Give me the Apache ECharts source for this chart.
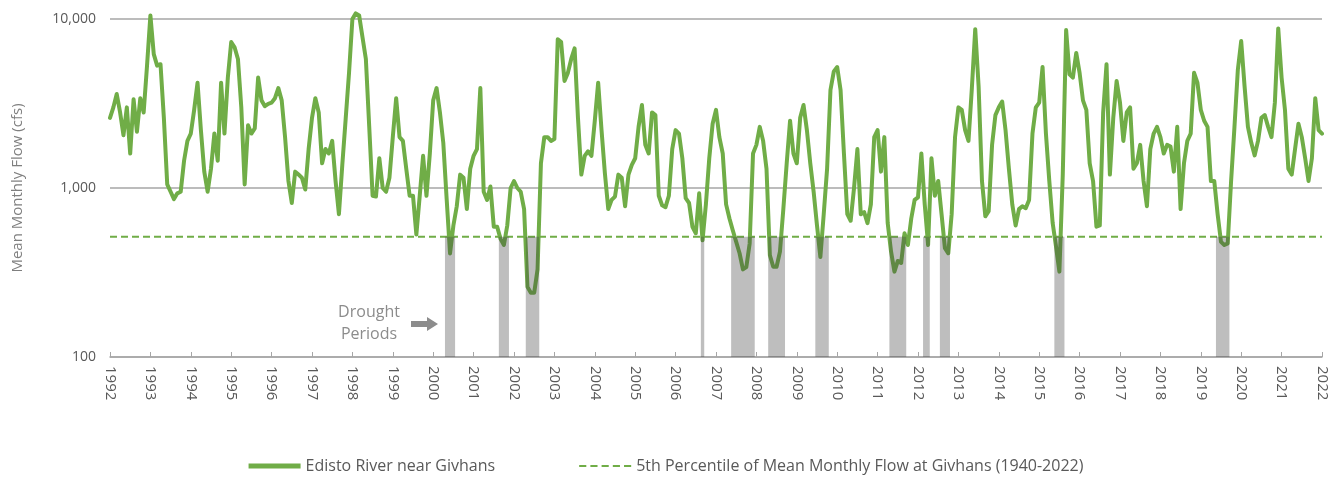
<!DOCTYPE html>
<html>
<head>
<meta charset="utf-8">
<script src="https://cdn.jsdelivr.net/npm/echarts@6/dist/echarts.min.js"></script>
<style>
html, body { margin: 0; padding: 0; background: #fff; }
#chart { width: 1332px; height: 480px; }
</style>
</head>
<body>
<div id="chart"></div>
<script>
// mean monthly flow (cfs), Jan 1992 .. Jan 2022, one row per year
const startYear = 1992;
const monthlyFlow = [
  2600, 3000, 3600, 2800, 2050, 3000, 1600, 3350, 2150, 3400, 2800, 5300,   // 1992
  10500, 6200, 5300, 5400, 2600, 1050, 950, 860, 930, 950, 1450, 1900,      // 1993
  2100, 2900, 4200, 2200, 1250, 950, 1300, 2100, 1450, 4200, 2100, 4500,    // 1994
  7300, 6800, 5800, 3000, 1050, 2350, 2100, 2250, 4500, 3300, 3050, 3150,   // 1995
  3200, 3400, 3900, 3300, 2000, 1100, 815, 1250, 1200, 1150, 980, 1700,     // 1996
  2600, 3400, 2800, 1400, 1700, 1600, 1900, 1100, 700, 1370, 2560, 4800,    // 1997
  10000, 10800, 10500, 7800, 5800, 2300, 900, 890, 1500, 1000, 950, 1150,   // 1998
  2000, 3400, 2000, 1900, 1300, 900, 900, 530, 900, 1550, 900, 1600,        // 1999
  3300, 3900, 2800, 1850, 860, 410, 600, 780, 1200, 1150, 750, 1300,        // 2000
  1550, 1700, 3900, 950, 850, 1020, 590, 590, 500, 460, 600, 1000,          // 2001
  1100, 1000, 950, 750, 260, 240, 240, 330, 1400, 2000, 2000, 1900,         // 2002
  1950, 7600, 7300, 4300, 4800, 5800, 6700, 2600, 1200, 1550, 1650, 1550,   // 2003
  2500, 4200, 2200, 1220, 750, 850, 890, 1200, 1150, 780, 1200, 1370,       // 2004
  1500, 2300, 3100, 1800, 1600, 2800, 2700, 900, 790, 770, 900, 1700,       // 2005
  2200, 2100, 1500, 870, 815, 590, 540, 930, 490, 800, 1500, 2400,          // 2006
  2900, 2000, 1600, 800, 660, 560, 480, 411, 330, 340, 470, 1600,           // 2007
  1800, 2300, 1900, 1300, 400, 342, 342, 420, 750, 1400, 2500, 1600,        // 2008
  1400, 2600, 3100, 2200, 1400, 950, 600, 390, 700, 1300, 3800, 4900,       // 2009
  5200, 3800, 1600, 700, 640, 1000, 1700, 700, 720, 620, 800, 2000,         // 2010
  2200, 1250, 2000, 620, 420, 320, 370, 360, 540, 460, 660, 850,            // 2011
  880, 1600, 800, 460, 1500, 900, 1100, 700, 440, 411, 700, 2000,           // 2012
  3000, 2900, 2200, 1900, 3900, 8700, 4000, 1100, 680, 730, 1800, 2700,     // 2013
  3000, 3250, 2200, 1300, 800, 600, 750, 780, 760, 850, 2100, 3000,         // 2014
  3200, 5200, 2100, 1100, 620, 450, 320, 1200, 8600, 4700, 4500, 6300,      // 2015
  4800, 3300, 2900, 1400, 1100, 590, 600, 2800, 5400, 1200, 2600, 4300,     // 2016
  3200, 1900, 2800, 3000, 1300, 1400, 1800, 1100, 780, 1700, 2100, 2300,    // 2017
  2000, 1600, 1800, 1760, 1250, 2300, 750, 1400, 1900, 2100, 4800, 4200,    // 2018
  2900, 2500, 2300, 1100, 1100, 700, 480, 460, 470, 1100, 2300, 5000,       // 2019
  7400, 4000, 2300, 1850, 1560, 1900, 2600, 2700, 2300, 2000, 3200, 8800,   // 2020
  4500, 2900, 1300, 1200, 1700, 2400, 2000, 1500, 1100, 1500, 3400, 2200,   // 2021
  2100                                                                      // 2022
];

// 5th percentile of mean monthly flow at Givhans (1940-2022)
const percentile5 = 515;

// drought periods, first and last month
const droughtPeriods = [
  ['2000-05', '2000-07'],
  ['2001-09', '2001-11'],
  ['2002-05', '2002-08'],
  ['2006-09', '2006-09'],
  ['2007-06', '2007-12'],
  ['2008-05', '2008-09'],
  ['2009-07', '2009-10'],
  ['2011-05', '2011-09'],
  ['2012-03', '2012-04'],
  ['2012-08', '2012-10'],
  ['2015-06', '2015-08'],
  ['2019-06', '2019-09']
];

const seriesNames = [
  'Edisto River near Givhans',
  '5th Percentile of Mean Monthly Flow at Givhans (1940-2022)'
];

const green = '#70ad47';
const textGrey = '#595959';
const lastMonth = monthlyFlow.length - 1;

// legend icons: thick solid bar, thin dashed bar
const solidIcon = 'path://M0 0H52V5H0Z';
const dashedIcon = 'path://M0 0H7V2H0Z M11 0H18V2H11Z M22 0H29V2H22Z M33 0H40V2H33Z M44 0H51V2H44Z';

function monthIndex(str) {
  const [y, m] = str.split('-').map(Number);
  return (y - startYear) * 12 + (m - 1);
}

const chart = echarts.init(document.getElementById('chart'));

const opt = {
  animation: false,
  textStyle: { fontFamily: 'Open Sans' },
  grid: { left: 110, right: 10, top: 19, bottom: 123 },
  legend: {
    bottom: 1,
    left: 'center',
    itemWidth: 52,
    itemHeight: 14,
    itemGap: 84,
    data: [
      { name: seriesNames[0], icon: solidIcon },
      { name: seriesNames[1], icon: dashedIcon }
    ],
    textStyle: { color: textGrey, fontSize: 16, fontFamily: 'Open Sans' }
  },
  xAxis: {
    type: 'value',
    min: 0,
    max: lastMonth,
    interval: 12,
    axisLine: { lineStyle: { color: '#a6a6a6', width: 1.5 } },
    axisTick: { inside: true, length: 5, lineStyle: { color: '#a6a6a6' } },
    splitLine: { show: false },
    axisLabel: {
      rotate: -90,
      margin: 9,
      color: textGrey,
      fontSize: 15,
      formatter: function (v) { return String(startYear + v / 12); }
    }
  },
  yAxis: {
    type: 'log',
    logBase: 10,
    min: 100,
    max: 10000,
    name: 'Mean Monthly Flow (cfs)',
    nameLocation: 'middle',
    nameGap: 85,
    nameTextStyle: { color: '#7f7f7f', fontSize: 15 },
    axisLine: { show: false },
    axisTick: { show: false },
    splitLine: { lineStyle: { color: '#a6a6a6', width: 1.5 } },
    axisLabel: {
      color: textGrey,
      fontSize: 14,
      margin: 14,
      formatter: function (v) { return v.toLocaleString('en-US'); }
    }
  },
  graphic: [
    {
      type: 'text',
      style: {
        text: 'Drought\nPeriods',
        x: 369, y: 301,
        textAlign: 'center',
        fill: '#8c8c8c',
        font: '16px "Open Sans"',
        lineHeight: 22
      }
    },
    {
      type: 'polygon',
      shape: { points: [[411, 321], [427, 321], [427, 317], [438, 324], [427, 331], [427, 327], [411, 327]] },
      style: { fill: '#8c8c8c' }
    }
  ],
  series: [
    {
      name: seriesNames[0],
      type: 'line',
      data: monthlyFlow.map(function (v, i) { return [i, v]; }),
      showSymbol: false,
      symbol: 'none',
      clip: false,
      z: 2,
      itemStyle: { color: green },
      lineStyle: { color: green, width: 4, join: 'round', cap: 'round' }
    },
    {
      name: seriesNames[1],
      type: 'line',
      data: [[0, percentile5], [lastMonth, percentile5]],
      showSymbol: false,
      symbol: 'none',
      z: 2,
      itemStyle: { color: green },
      lineStyle: { color: green, width: 2, type: [7, 4] }
    },
    {
      name: 'Drought',
      type: 'custom',
      z: 4,
      data: droughtPeriods.map(function (p) {
        return [monthIndex(p[0]) - 0.5, monthIndex(p[1]) + 0.5];
      }),
      encode: { x: [0, 1] },
      renderItem: function (params, api) {
        const p1 = api.coord([api.value(0), percentile5]);
        const p2 = api.coord([api.value(1), 100]);
        return {
          type: 'rect',
          shape: { x: p1[0], y: p1[1], width: p2[0] - p1[0], height: p2[1] - p1[1] },
          style: { fill: 'rgba(64,64,64,0.34)' }
        };
      }
    }
  ]
};

chart.setOption(opt);
window.addEventListener('resize', function () {
  chart.resize();
});
</script>
</body>
</html>
